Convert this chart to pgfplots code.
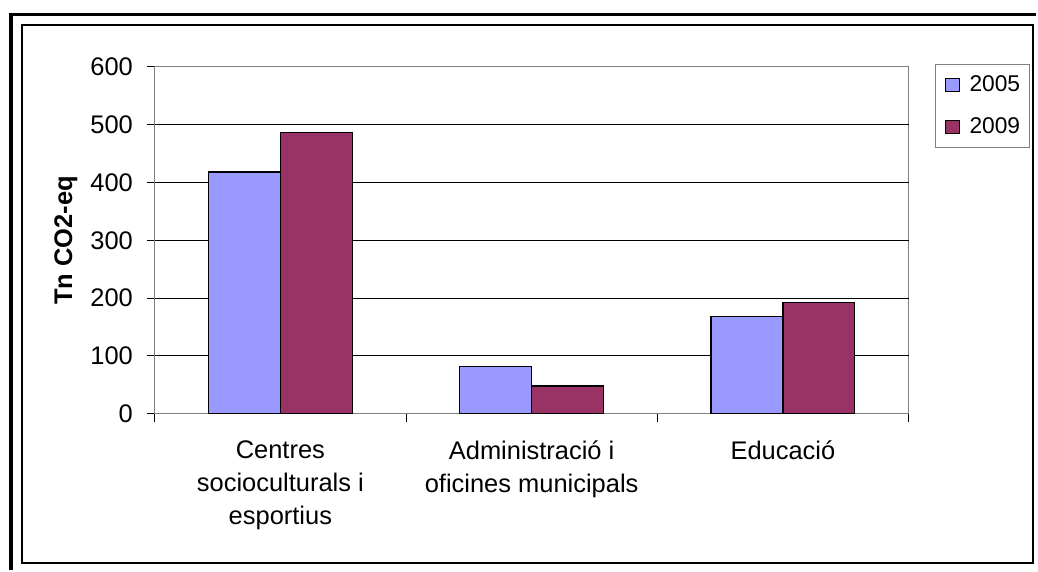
\documentclass[border=0pt]{standalone}
\usepackage{fontspec}
\setmainfont{Liberation Sans}
\usepackage{pgfplots}
\pgfplotsset{compat=1.18}
\definecolor{cA}{HTML}{9999FF}
\definecolor{cB}{HTML}{993366}
\definecolor{frameg}{HTML}{808080}
\newcommand{\lf}{\fontsize{11.4pt}{13pt}\selectfont}
\begin{document}
\fontsize{12.75pt}{16.5pt}\selectfont
\begin{tikzpicture}[x=1pt,y=1pt]
\fill[white] (0,0) rectangle (519,285.5);
\draw[line width=1.7pt] (5.5,0) -- (5.5,278.35) -- (519,278.35);
\draw[line width=1pt] (11,3.35) rectangle (517.15,273);
\begin{axis}[
  at={(77.5pt,78.25pt)}, anchor=south west,
  scale only axis, width=377.5pt, height=173.75pt,
  ymin=0, ymax=600, ytick={0,100,...,600},
  xmin=0.5, xmax=3.5, xtick={1,2,3},
  xticklabels={{Centres\\socioculturals i\\esportius},{Administració i\\oficines municipals},{Educació}},
  xticklabel style={align=center, inner sep=0pt, yshift=-9.5pt, font=\fontsize{12.75pt}{16.5pt}\selectfont},
  yticklabel style={xshift=-2.5pt, font=\fontsize{12.75pt}{15pt}\selectfont},
  /pgf/number format/assume math mode=true,
  minor xtick={0.5,1.5,2.5,3.5},
  xtick pos=bottom, ytick pos=left,
  tick align=outside,
  major tick length=4pt, minor tick length=4pt,
  tick style={black, line width=0.5pt},
  major x tick style={draw=none},
  axis line style={frameg, line width=0.6pt},
  extra y ticks={100,200,300,400,500},
  extra y tick labels={},
  extra y tick style={grid=major, major tick length=0pt},
  grid style={black, line width=0.5pt},
  ylabel={\bfseries Tn CO2-eq},
  ylabel style={at={(axis description cs:-0.1179,0.5)}, anchor=center, font=\fontsize{12.75pt}{15pt}\selectfont},
  ybar=0pt, bar width=36pt,
  legend style={at={(1,1)}, anchor=north west, xshift=13.5pt, yshift=1.5pt,
    draw=frameg, font=\lf, nodes={inner sep=0pt, font=\lf},
    inner xsep=4.75pt, inner ysep=5.5pt, row sep=11.1pt, column sep=5pt},
  legend cell align=left,
  legend image code/.code={\draw[#1, draw=black, line width=0.5pt] (0pt,-3.3pt) rectangle (6.6pt,3.3pt);},
]
\addplot[fill=cA, draw=black, line width=0.7pt] coordinates {(1,418) (2,82) (3,168)};
\addplot[fill=cB, draw=black, line width=0.7pt] coordinates {(1,487) (2,48) (3,193)};
\legend{\lf 2005,\lf 2009}
\end{axis}
\end{tikzpicture}
\end{document}
